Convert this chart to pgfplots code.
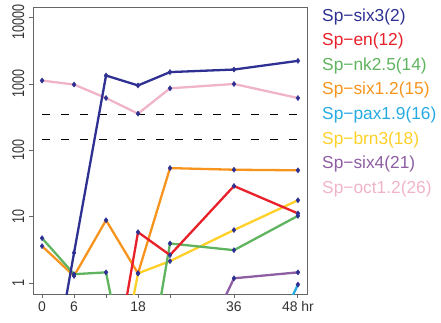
\documentclass[border=0pt]{standalone}
\usepackage{fontspec}
\setmainfont{Liberation Sans}
\usepackage{pgfplots}
\pgfplotsset{compat=1.18}
\definecolor{cnavy}{RGB}{46,49,146}
\definecolor{cred}{RGB}{232,32,42}
\definecolor{cgreen}{RGB}{96,180,96}
\definecolor{corange}{RGB}{247,148,29}
\definecolor{ccyan}{RGB}{39,170,225}
\definecolor{cyellow}{RGB}{255,208,40}
\definecolor{cpurple}{RGB}{142,94,162}
\definecolor{cpink}{RGB}{240,180,200}
\begin{document}
\begin{tikzpicture}[x=1bp,y=1bp]
\begin{axis}[
  at={(33bp,28bp)}, anchor=south west,
  scale only axis, width=274bp, height=287bp,
  xmin=-1.7, xmax=49.7,
  ymode=log, ymin=0.684, ymax=14450,
  xtick={0,6,12,18,24,36,48},
  xticklabels={0,6,,18,,36,48 hr},
  ytick={1,10,100,1000,10000},
  yticklabels={1,10,100,1000,\hspace*{-9bp}10000},
  xminorticks=false, yminorticks=false,
  tick pos=left, tick align=outside, major tick length=4bp,
  axis line style={draw=black!60, line width=0.9bp},
  every tick/.style={draw=black!60, line width=0.9bp},
  xticklabel style={font=\fontsize{14}{14}\selectfont, text=black!80, anchor=north},
  yticklabel style={font=\fontsize{12.6}{12.6}\selectfont, text=black!80, rotate=90, yscale=1.35, anchor=south},
  every axis plot/.append style={line width=2.3bp, mark=diamond*, mark size=2.6bp,
     mark options={draw=cnavy, fill=cnavy, line width=0.4bp, solid}},
]
\addplot[black, line width=0.8bp, mark=none, dash pattern=on 8bp off 11bp] coordinates {(0,345) (48,345)};
\addplot[black, line width=0.8bp, mark=none, dash pattern=on 8bp off 11bp] coordinates {(0,147) (48,147)};
% oct1.2
\addplot[cpink] coordinates {(0,1125) (6,980) (12,614) (18,357) (24,860) (36,1000) (48,614)};
% six4
\addplot[cpurple] coordinates {(24,0.011) (36,1.18) (48,1.45)};
% brn3
\addplot[cyellow] coordinates {(0,0.004) (6,0.004) (12,0.0045) (18,1.4) (24,2.14) (36,6.3) (48,17.7)};
% pax1.9
\addplot[ccyan] coordinates {(36,0.0087) (48,0.95)};
% six1.2
\addplot[corange] coordinates {(0,3.6) (6,1.28) (12,8.85) (18,1.4) (24,54) (36,51) (48,50)};
% nk2.5
\addplot[cgreen] coordinates {(0,4.75) (6,1.36) (12,1.45) (18,0.006) (24,3.95) (36,3.13) (48,10.3)};
% en
\addplot[cred] coordinates {(0,0.01) (6,0.01) (12,0.01) (18,5.85) (24,2.64) (36,29) (48,11.2)};
% six3
\addplot[cnavy] coordinates {(0,0.0055) (6,2.86) (12,1340) (18,950) (24,1510) (36,1650) (48,2230)};
\end{axis}
\begin{scope}[every node/.style={anchor=base west, inner sep=0pt, font=\fontsize{17.4}{18}\selectfont}]
\node[text=cnavy] at (322,301) {Sp−six3(2)};
\node[text=cred] at (322,276.4) {Sp−en(12)};
\node[text=cgreen] at (322,251.8) {Sp−nk2.5(14)};
\node[text=corange] at (322,227.2) {Sp−six1.2(15)};
\node[text=ccyan] at (322,202.6) {Sp−pax1.9(16)};
\node[text=cyellow] at (322,178.0) {Sp−brn3(18)};
\node[text=cpurple] at (322,153.4) {Sp−six4(21)};
\node[text=cpink] at (322,128.8) {Sp−oct1.2(26)};
\end{scope}
\pgfresetboundingbox
\useasboundingbox (0,0) rectangle (441,322);
\end{tikzpicture}
\end{document}
